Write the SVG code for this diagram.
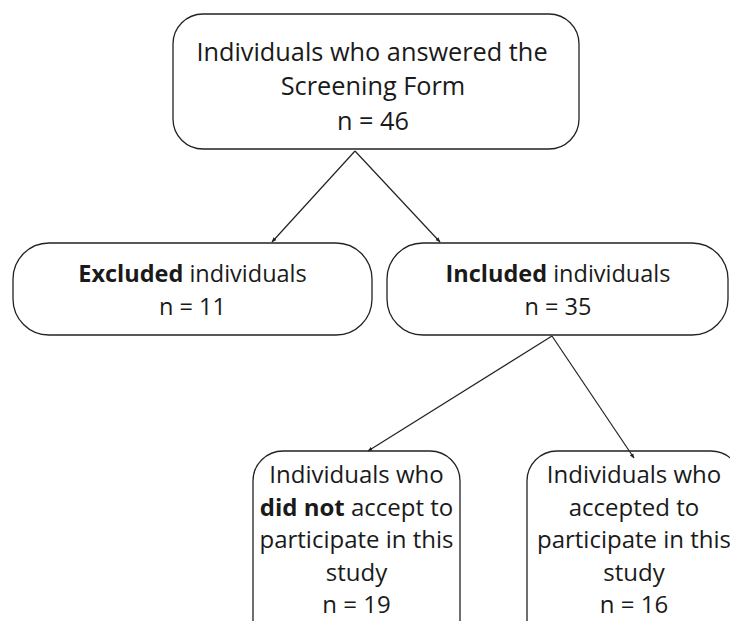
<svg xmlns="http://www.w3.org/2000/svg" width="730" height="621" viewBox="0 0 730 621">
<defs>
<style>
.box{fill:#fff;stroke:#222;stroke-width:1.3}
.t{font-family:"Open Sans","Noto Sans","DejaVu Sans",sans-serif;fill:#1a1a1a;text-anchor:middle}
.h{font-size:25.3px}
.m{font-size:23.5px}
.l{font-size:24px}
.b{font-weight:bold}
.c{stroke:#222;stroke-width:1.2;fill:none;marker-end:url(#ah)}
</style>
<marker id="ah" viewBox="0 0 10 10" refX="9" refY="5" markerWidth="5" markerHeight="5" orient="auto" markerUnits="userSpaceOnUse">
<path d="M0,1 L10,5 L0,9 z" fill="#222"/>
</marker>
</defs>
<rect width="730" height="621" fill="#fff"/>
<g id="screening">
<rect class="box" x="173" y="14" width="406" height="135" rx="30"/>
<text class="t h" x="372" y="61">Individuals who answered the</text>
<text class="t h" x="373" y="95">Screening Form</text>
<text class="t h" x="373" y="130">n = 46</text>
</g>
<g id="excluded">
<rect class="box" x="13" y="243" width="359" height="92" rx="36"/>
<text class="t m" x="192.5" y="282"><tspan class="b">Excluded</tspan> individuals</text>
<text class="t m" x="192.5" y="315">n = 11</text>
</g>
<g id="included">
<rect class="box" x="387" y="243" width="341" height="92" rx="36"/>
<text class="t m" x="558" y="282"><tspan class="b">Included</tspan> individuals</text>
<text class="t m" x="558" y="315">n = 35</text>
</g>
<g id="declined">
<rect class="box" x="253" y="451" width="207" height="200" rx="30"/>
<text class="t l" x="356.5" y="483">Individuals who</text>
<text class="t l" x="356.5" y="515.5"><tspan class="b">did not</tspan> accept to</text>
<text class="t l" x="356.5" y="548">participate in this</text>
<text class="t l" x="356.5" y="580.5">study</text>
<text class="t l" x="356.5" y="613">n = 19</text>
</g>
<g id="accepted">
<rect class="box" x="527" y="451" width="214" height="200" rx="30"/>
<text class="t l" x="634" y="483">Individuals who</text>
<text class="t l" x="634" y="515.5">accepted to</text>
<text class="t l" x="634" y="548">participate in this</text>
<text class="t l" x="634" y="580.5">study</text>
<text class="t l" x="634" y="613">n = 16</text>
</g>
<g id="connectors">
<line class="c" x1="355" y1="151" x2="272" y2="242"/>
<line class="c" x1="355" y1="151" x2="440" y2="242"/>
<line class="c" x1="552" y1="336" x2="368" y2="451"/>
<line class="c" x1="552" y1="336" x2="634" y2="458"/>
</g>
</svg>
